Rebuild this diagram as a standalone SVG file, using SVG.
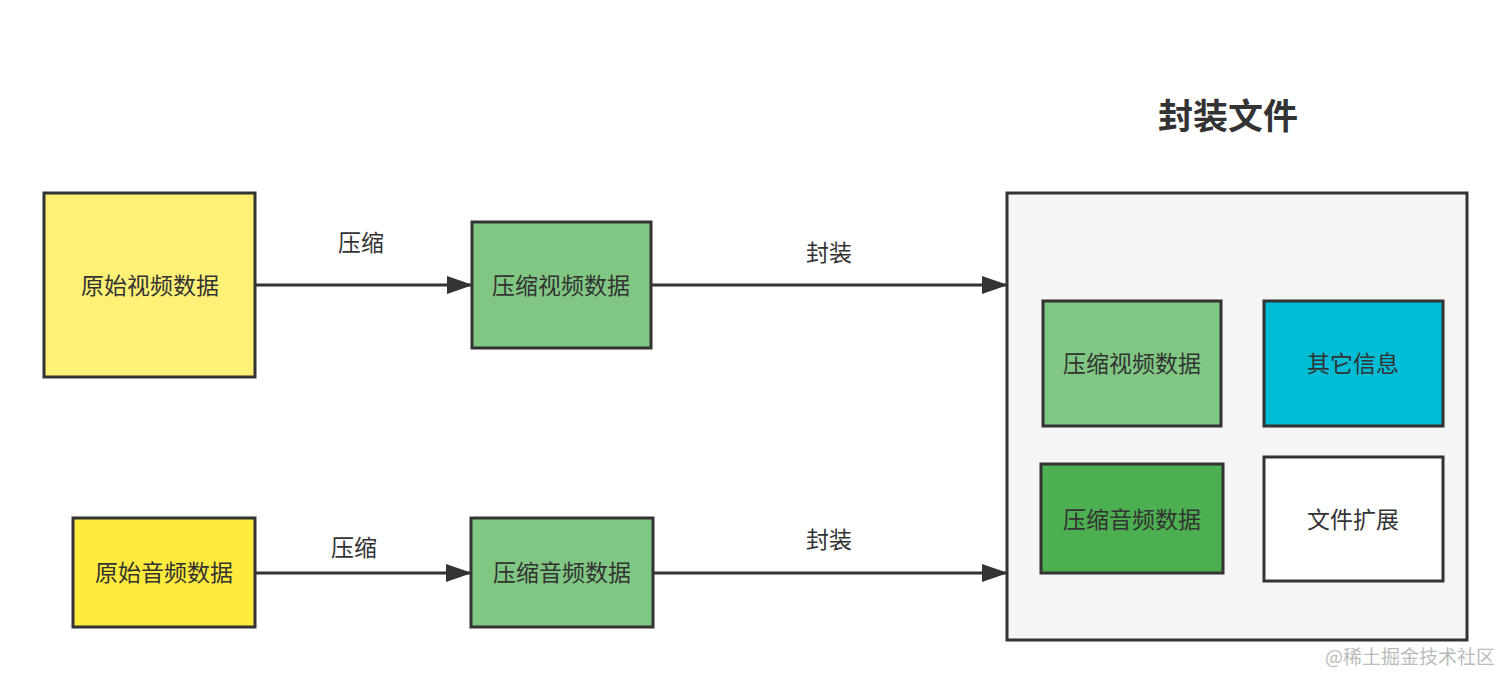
<svg xmlns="http://www.w3.org/2000/svg" width="1512" height="686" viewBox="0 0 1512 686">
<style>
.box{stroke:#333;stroke-width:3}
.t{font-family:"Noto Sans CJK SC","Noto Sans",sans-serif;font-size:23px;fill:#333;text-anchor:middle;dominant-baseline:central}
.c{stroke:#333;stroke-width:3;fill:none}
</style>
<defs>
<marker id="ah" markerWidth="26" markerHeight="20" refX="25" refY="10" orient="auto" markerUnits="userSpaceOnUse">
<path d="M0,1 L26,10 L0,19 Z" fill="#333"/>
</marker>
</defs>
<rect width="1512" height="686" fill="#fff"/>
<text x="1228" y="113" class="t" style="font-size:35px;font-weight:bold">封装文件</text>
<g id="container"><rect class="box" x="1007" y="193" width="460" height="447" fill="#f5f5f5"/></g>
<g id="raw-video"><rect class="box" x="44" y="193" width="211" height="184" fill="#fff176"/><text class="t" x="150" y="284">原始视频数据</text></g>
<g id="comp-video"><rect class="box" x="472" y="222" width="179" height="126" fill="#81c784"/><text class="t" x="561" y="284">压缩视频数据</text></g>
<g id="raw-audio"><rect class="box" x="73" y="518" width="182" height="109" fill="#ffeb3b"/><text class="t" x="164" y="571">原始音频数据</text></g>
<g id="comp-audio"><rect class="box" x="471" y="518" width="182" height="109" fill="#81c784"/><text class="t" x="562" y="571">压缩音频数据</text></g>
<g id="inner-video"><rect class="box" x="1043" y="301" width="178" height="125" fill="#81c784"/><text class="t" x="1132" y="362">压缩视频数据</text></g>
<g id="inner-other"><rect class="box" x="1264" y="301" width="179" height="125" fill="#00bcd4"/><text class="t" x="1353" y="362">其它信息</text></g>
<g id="inner-audio"><rect class="box" x="1041" y="464" width="182" height="109" fill="#4caf50"/><text class="t" x="1132" y="518">压缩音频数据</text></g>
<g id="inner-ext"><rect class="box" x="1264" y="457" width="179" height="124" fill="#fff"/><text class="t" x="1353" y="518">文件扩展</text></g>
<g id="connectors">
<line class="c" x1="255" y1="285" x2="472" y2="285" marker-end="url(#ah)"/>
<line class="c" x1="651" y1="285" x2="1007" y2="285" marker-end="url(#ah)"/>
<line class="c" x1="255" y1="573" x2="471" y2="573" marker-end="url(#ah)"/>
<line class="c" x1="653" y1="573" x2="1007" y2="573" marker-end="url(#ah)"/>
<text class="t" x="361" y="241">压缩</text>
<text class="t" x="829" y="251">封装</text>
<text class="t" x="354" y="546">压缩</text>
<text class="t" x="829" y="538">封装</text>
</g>
<text x="1410" y="655" style="font-family:'Noto Sans CJK SC',sans-serif;font-size:19px;fill:#bbb;text-anchor:middle;dominant-baseline:central">@稀土掘金技术社区</text>
</svg>
